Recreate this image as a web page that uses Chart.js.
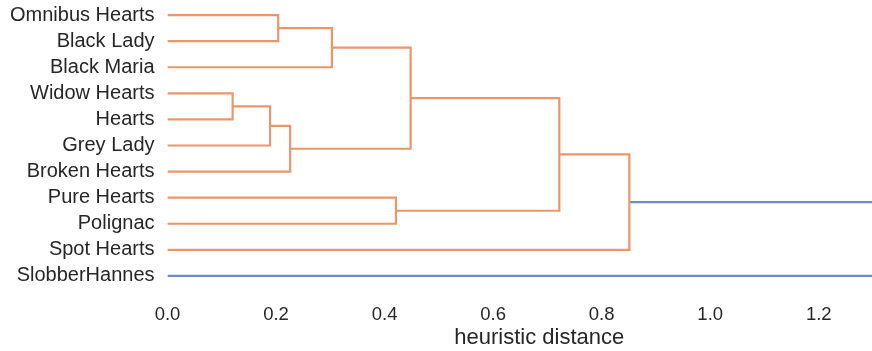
<!DOCTYPE html>
<html>
<head>
<meta charset="utf-8">
<script src="https://cdn.jsdelivr.net/npm/chart.js@4"></script>
<style>
html,body{margin:0;padding:0;background:#fff;overflow:hidden;width:872px;height:351px;}
#wrap{position:absolute;left:0;top:0;width:911px;height:351px;}
</style>
</head>
<body>
<div id="wrap"><canvas id="c" width="911" height="351"></canvas></div>
<script>
// Leaves, top to bottom
const leaves = ['Omnibus Hearts','Black Lady','Black Maria','Widow Hearts','Hearts','Grey Lady','Broken Hearts','Pure Hearts','Polignac','Spot Hearts','SlobberHannes'];
// Linkage: cluster ids 0..10 are leaves, merges create ids 11..20
const mergeLeft   = [0, 11, 3, 13, 14, 12, 7, 16, 18, 19];
const mergeRight  = [1, 2, 4, 5, 6, 15, 8, 17, 9, 10];
const mergeHeight = [0.204, 0.303, 0.120, 0.189, 0.226, 0.448, 0.421, 0.722, 0.851, 1.45];
const mergeGroup  = ['C1','C1','C1','C1','C1','C1','C1','C1','C1','C0'];
const xTicks = [0, 0.2, 0.4, 0.6, 0.8, 1.0, 1.2];
const xTitle = 'heuristic distance';

const groupColors = { C0: 'rgb(108,140,204)', C1: 'rgb(234,150,106)' };
const FONT = "'Liberation Sans', Arial, sans-serif";
const TEXT = '#262626';

// positions (scipy convention: leaves at 5, 15, ..., top first)
const n = leaves.length;
const posY = leaves.map((_, i) => 10 * (n - 1 - i) + 5);
const posH = leaves.map(() => 0);
const datasets = [];
mergeLeft.forEach((a, k) => {
  const b = mergeRight[k], h = mergeHeight[k];
  datasets.push({
    data: [
      { x: posH[a], y: posY[a] },
      { x: h, y: posY[a] },
      { x: h, y: posY[b] },
      { x: posH[b], y: posY[b] }
    ],
    borderColor: groupColors[mergeGroup[k]],
    borderWidth: 2.2,
    showLine: true,
    pointRadius: 0,
    fill: false,
    tension: 0,
    borderJoinStyle: 'miter'
  });
  posY.push((posY[a] + posY[b]) / 2);
  posH.push(h);
});

new Chart(document.getElementById('c'), {
  type: 'scatter',
  data: { datasets },
  options: {
    responsive: false,
    animation: false,
    devicePixelRatio: 1,
    layout: { padding: { top: 2, right: 0, left: 0, bottom: 0 } },
    plugins: { legend: { display: false }, tooltip: { enabled: false } },
    scales: {
      x: {
        type: 'linear',
        min: 0,
        max: 1.37,
        grid: { display: false, drawTicks: false },
        border: { display: false },
        afterBuildTicks: s => { s.ticks = xTicks.map(v => ({ value: v })); },
        afterFit: s => { s.height = 62; s.paddingLeft = 0; s.paddingRight = 0; },
        ticks: {
          color: TEXT,
          font: { family: FONT, size: 18.5 },
          padding: 15,
          maxRotation: 0,
          callback: v => Number(v).toFixed(1)
        },
        title: {
          display: true,
          text: xTitle,
          color: TEXT,
          font: { family: FONT, size: 22 },
          padding: { top: 0, bottom: 0 }
        }
      },
      y: {
        type: 'linear',
        min: 0,
        max: 10 * n,
        grid: { display: false, drawTicks: false },
        border: { display: false },
        afterBuildTicks: s => { s.ticks = leaves.map((_, i) => ({ value: 10 * (n - 1 - i) + 5 })); },
        afterFit: s => { s.width = 167.5; s.paddingTop = 0; s.paddingBottom = 0; },
        ticks: {
          color: TEXT,
          font: { family: FONT, size: 20 },
          padding: 13,
          autoSkip: false,
          callback: v => leaves[n - 1 - Math.round((v - 5) / 10)]
        }
      }
    }
  }
});
</script>
</body>
</html>
